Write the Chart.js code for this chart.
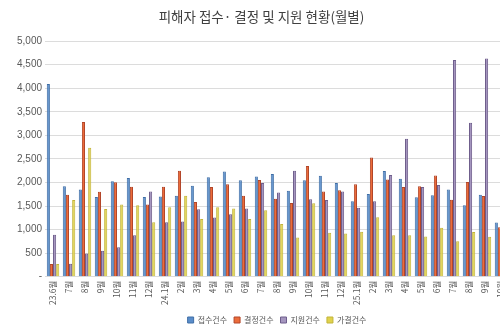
<!DOCTYPE html>
<html>
<head>
<meta charset="utf-8">
<script src="https://cdn.jsdelivr.net/npm/chart.js@4"></script>
<style>
  html, body { margin: 0; padding: 0; background: #ffffff; overflow: hidden; }
  #wrap { width: 528px; height: 334px; }
</style>
</head>
<body>
<div id="wrap"><canvas id="c" width="528" height="334"></canvas></div>
<script>
const categories = ['23.6월','7월','8월','9월','10월','11월','12월',
  '24.1월','2월','3월','4월','5월','6월','7월','8월','9월','10월','11월','12월',
  '25.1월','2월','3월','4월','5월','6월','7월','8월','9월','10월'];

const received = [4090,1920,1850,1690,2025,2095,1690,
  1700,1720,1930,2110,2235,2045,2125,2180,1825,2045,2145,1990,
  1600,1755,2245,2080,1685,1730,1850,1515,1740,1150];

const decided = [270,1740,3285,1805,2005,1910,1535,
  1910,2250,1585,1905,1960,1720,2055,1655,1565,2350,1810,1835,
  1960,2530,2065,1905,1920,2150,1635,2010,1715,1050];

const supported = [890,275,490,550,625,880,1810,
  1155,1170,1430,1255,1325,1445,1990,1785,2250,1645,1630,1810,
  1465,1600,2160,2930,1905,1945,4600,3270,4630,2530];

const approved = [270,1630,2735,1435,1530,1515,1155,
  1475,1720,1225,1475,1450,1225,1410,1120,830,1560,935,915,
  955,1260,880,880,855,1040,750,950,845,900];

const seriesNames = ['접수건수','결정건수','지원건수','가결건수'];
const yTicks = [0,500,1000,1500,2000,2500,3000,3500,4000,4500,5000];

const fills = ['#5a8dca','#ec6c3a','#a596bf','#e0d24c'];
const borders = ['#3f6ea6','#b2462a','#6f5e8c','#c2b43a'];
const seriesData = [received, decided, supported, approved];

new Chart(document.getElementById('c'), {
  type: 'bar',
  data: {
    labels: categories,
    datasets: seriesNames.map((n, i) => ({
      label: n,
      data: seriesData[i],
      backgroundColor: fills[i],
      borderColor: borders[i],
      borderWidth: 1,
      categoryPercentage: 0.78,
      barPercentage: 1.0
    }))
  },
  options: {
    responsive: false,
    animation: false,
    layout: { padding: { left: 14, right: 19, top: 0, bottom: 0 } },
    plugins: {
      title: {
        display: true,
        text: '피해자 접수· 결정 및 지원 현황(월별)',
        color: '#404040',
        font: { family: "'Noto Sans CJK KR', 'Noto Sans', sans-serif", size: 13.5, weight: 'normal' },
        padding: { top: 9, bottom: 16 }
      },
      legend: {
        position: 'bottom',
        fullSize: false,
        labels: {
          boxWidth: 6, boxHeight: 6,
          color: '#595959',
          padding: 7,
          font: { family: "'Noto Sans CJK KR', sans-serif", size: 8 }
        }
      },
      tooltip: { enabled: false }
    },
    scales: {
      x: {
        grid: { display: false, drawTicks: false },
        border: { display: false },
        ticks: {
          autoSkip: false, maxRotation: 90, minRotation: 90,
          color: '#595959', padding: 4,
          font: { family: "'Noto Sans CJK KR', sans-serif", size: 8.5 }
        }
      },
      y: {
        min: 0, max: 5000,
        afterBuildTicks: (axis) => { axis.ticks = yTicks.map(v => ({ value: v })); },
        grid: { color: '#dcdcdc', drawTicks: false },
        border: { display: false },
        ticks: {
          color: '#595959', padding: 3,
          font: { family: "'Liberation Sans', sans-serif", size: 10 },
          callback: (v) => v === 0 ? '-' : v.toLocaleString('en-US')
        }
      }
    }
  }
});
</script>
</body>
</html>
